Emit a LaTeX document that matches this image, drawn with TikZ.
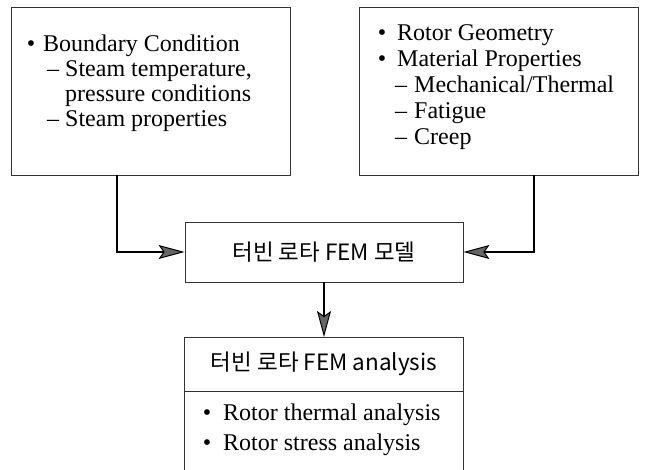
\documentclass[tikz,border=0pt]{standalone}
\usepackage{fontspec}
\setmainfont{Liberation Serif}
\newfontfamily\kr{Noto Sans CJK KR}
\usetikzlibrary{arrows.meta}
\tikzset{
  boxline/.style={draw=black!80, line width=0.9pt},
  boxnode/.style={boxline, rectangle, inner sep=0pt},
  txt/.style={anchor=base west, inner sep=0pt, font=\fontsize{24}{25}\selectfont},
  bul/.style={anchor=base, inner sep=0pt, font=\fontsize{24}{25}\selectfont},
  krtxt/.style={inner sep=0pt, font=\kr\fontsize{22.5}{25}\selectfont},
  conn/.style={draw=black, line width=2pt,
    -{Stealth[length=26pt, width=14pt, inset=5pt, line width=1pt, fill=black!60]}}
}
\begin{document}
\begin{tikzpicture}[x=1pt, y=-1pt]
\useasboundingbox (0,0) rectangle (648,470);
% top left box
\node[boxnode, minimum width=279pt, minimum height=168pt] (leftbox) at (150.5,91) {};
\node[bul] (lb1) at (31,52) {•};
\node[txt] (lt1) at (43,52) {Boundary Condition};
\node[txt] (ld1) at (47,77) {–};
\node[txt] (lt2) at (65,77) {Steam temperature,};
\node[txt] (lt3) at (65,102) {pressure conditions};
\node[txt] (ld2) at (47,127) {–};
\node[txt] (lt4) at (65,127) {Steam properties};
% top right box
\node[boxnode, minimum width=279pt, minimum height=168pt] (rightbox) at (498.5,91) {};
\node[bul] (rb1) at (382,41) {•};
\node[txt] (rt1) at (397,41) {Rotor Geometry};
\node[bul] (rb2) at (382,67) {•};
\node[txt] (rt2) at (397,67) {Material Properties};
\node[txt] (rd1) at (395,93) {–};
\node[txt] (rt3) at (414,93) {Mechanical/Thermal};
\node[txt] (rd2) at (395,119) {–};
\node[txt] (rt4) at (414,119) {Fatigue};
\node[txt] (rd3) at (395,145) {–};
\node[txt] (rt5) at (414,145) {Creep};
% middle box
\node[boxnode, krtxt, minimum width=278pt, minimum height=60pt] (mid) at (324,252) {터빈 로타 FEM 모델};
% bottom box
\node[krtxt, minimum width=278pt, minimum height=54pt, anchor=north] (bothead) at (324,337) {터빈 로타 FEM analysis};
\coordinate (pagebottom) at (0,470);
\draw[boxline] (bothead.north west |- pagebottom) -- (bothead.north west) -- (bothead.north east) -- (bothead.north east |- pagebottom);
\draw[boxline] (bothead.south west) -- (bothead.south east);
\node[bul] (bb1) at (207,420) {•};
\node[txt] (bt1) at (223,420) {Rotor thermal analysis};
\node[bul] (bb2) at (207,450) {•};
\node[txt] (bt2) at (223,450) {Rotor stress analysis};
% connectors
\draw[conn] ([xshift=-33.5pt]leftbox.south) |- (mid.west);
\draw[conn] ([xshift=35.5pt]rightbox.south) |- (mid.east);
\draw[conn] (mid.south) -- (bothead.north);
\end{tikzpicture}
\end{document}
